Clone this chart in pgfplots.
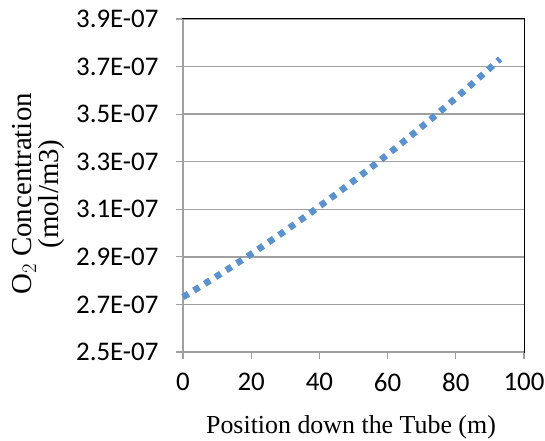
\documentclass[border=0pt]{standalone}
\usepackage{fontspec}
\setmainfont{Liberation Serif}
\newfontfamily\calibri{Carlito}
\usepackage{pgfplots}
\pgfplotsset{compat=1.18}
\definecolor{lineblue}{RGB}{91,145,204}
\definecolor{gridgray}{RGB}{160,160,160}

\begin{document}
\begin{tikzpicture}
\path[use as bounding box] (-183bp,-89bp) rectangle (362bp,352bp);
\begin{axis}[
    at={(0,0)}, anchor=south west,
    scale only axis,
    width=341bp, height=333bp,
    xmin=0, xmax=100,
    ymin=2.5e-7, ymax=3.9e-7,
    scaled y ticks=false,
    xtick={0,20,...,100},
    ytick={2.5e-7,2.7e-7,2.9e-7,3.1e-7,3.3e-7,3.5e-7,3.7e-7,3.9e-7},
    yticklabels={2.5E-07,2.7E-07,2.9E-07,3.1E-07,3.3E-07,3.5E-07,3.7E-07,3.9E-07},
    xticklabel style={font=\calibri\fontsize{27}{30}\selectfont, yshift=-11bp},
    yticklabel style={font=\calibri\fontsize{27}{30}\selectfont, xshift=-14bp},
    /pgf/number format/assume math mode=true,
    xtick pos=left, ytick pos=left,
    tick align=outside,
    major tick length=7bp,
    tick style={gridgray, line width=1.2bp},
    axis line style={black, line width=1bp},
    ymajorgrids,
    grid style={gridgray, line width=1.4bp},
    xlabel={Position down the Tube (m)},
    ylabel={O$_2$ Concentration\\(mol/m3)},
    every axis y label/.style={at={(axis description cs:-0.424,0.4745)}, anchor=center,
        rotate=90, align=center, font=\fontsize{29}{27}\selectfont},
    every axis x label/.style={at={(axis description cs:0.4927,-0.225)}, anchor=center,
        font=\fontsize{26}{28}\selectfont},
    clip=false,
]
\draw[gridgray, line width=2bp] (rel axis cs:0,1) -- (rel axis cs:0,0) -- (rel axis cs:1,0);
\addplot[lineblue, line width=6.5bp, dash pattern=on 6.3bp off 6.4bp] coordinates {
(0,2.7310e-7) (3,2.7570e-7) (6,2.7834e-7) (9,2.8102e-7) (12,2.8375e-7)
(15,2.8651e-7) (18,2.8932e-7) (21,2.9217e-7) (24,2.9507e-7) (27,2.9800e-7)
(30,3.0098e-7) (33,3.0400e-7) (36,3.0706e-7) (39,3.1016e-7) (42,3.1331e-7)
(45,3.1649e-7) (48,3.1972e-7) (51,3.2299e-7) (54,3.2631e-7) (57,3.2966e-7)
(60,3.3306e-7) (63,3.3650e-7) (66,3.3998e-7) (69,3.4350e-7) (72,3.4706e-7)
(75,3.5067e-7) (78,3.5432e-7) (81,3.5801e-7) (84,3.6174e-7) (87,3.6552e-7)
(90,3.6933e-7) (93,3.7319e-7)
};
\end{axis}
\end{tikzpicture}
\end{document}
